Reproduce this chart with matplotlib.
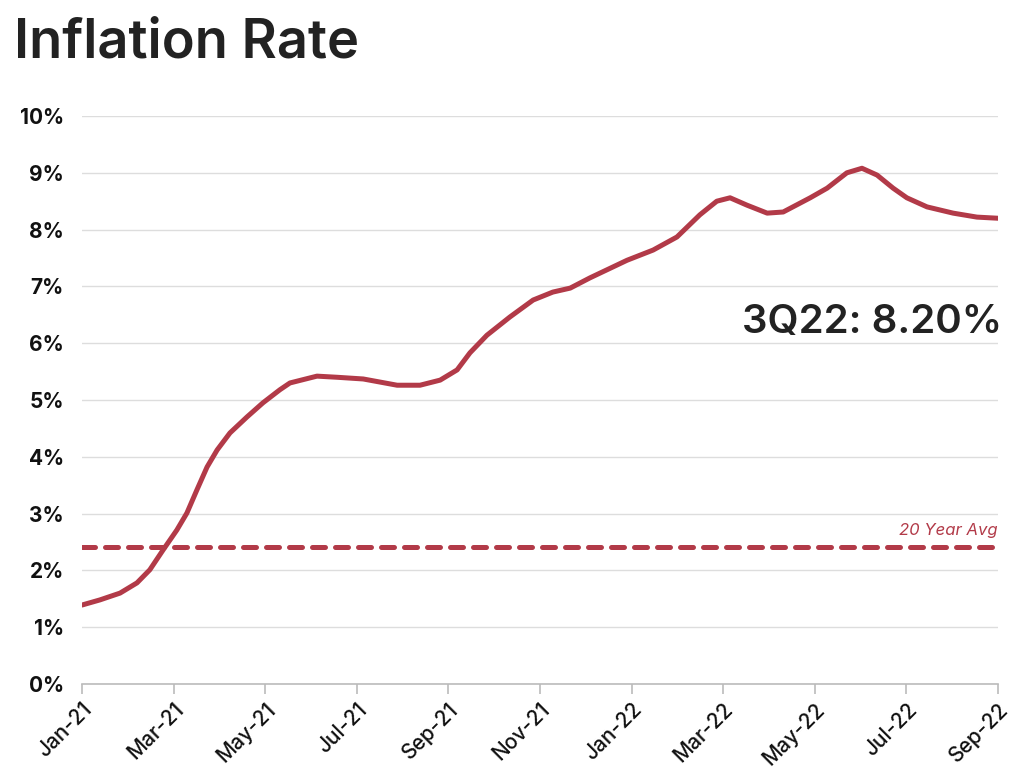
import matplotlib
matplotlib.use("Agg")
import matplotlib.pyplot as plt
from matplotlib.ticker import FuncFormatter

# readings: months since Jan-21 and inflation (%)
month_pos = [
    0.00, 0.39, 0.83, 1.20, 1.48, 1.77, 2.07, 2.29, 2.51, 2.73,
    2.95, 3.23, 3.60, 3.95, 4.32, 4.54, 5.13, 5.57, 6.14, 6.88,
    7.38, 7.82, 8.19, 8.47, 8.84, 9.34, 9.85, 10.28, 10.66, 11.09,
    11.90, 12.47, 12.99, 13.49, 13.86, 14.15, 14.52, 14.96, 15.31, 15.90,
    16.27, 16.70, 17.03, 17.36, 17.71, 18.01, 18.45, 19.02, 19.54, 20.00,
]
inflation = [
    1.39, 1.48, 1.60, 1.78, 2.01, 2.36, 2.71, 3.01, 3.42, 3.82,
    4.12, 4.42, 4.70, 4.95, 5.18, 5.30, 5.42, 5.40, 5.37, 5.26,
    5.26, 5.35, 5.53, 5.83, 6.14, 6.46, 6.76, 6.90, 6.97, 7.15,
    7.46, 7.64, 7.87, 8.26, 8.50, 8.56, 8.43, 8.29, 8.31, 8.56,
    8.73, 9.00, 9.08, 8.96, 8.73, 8.56, 8.40, 8.29, 8.22, 8.20,
]
tick_months = [0, 2, 4, 6, 8, 10, 12, 14, 16, 18, 20]
tick_labels = ["Jan-21", "Mar-21", "May-21", "Jul-21", "Sep-21", "Nov-21",
               "Jan-22", "Mar-22", "May-22", "Jul-22", "Sep-22"]
avg_20yr = 2.42
label_text = "3Q22: 8.20%"

red = "#b23a48"
font = ["Inter", "DejaVu Sans"]

fig = plt.figure(figsize=(10.28, 7.76), dpi=100)
ax = fig.add_axes([0.0798, 0.1186, 0.891, 0.7319])

ax.plot(month_pos, inflation, color=red, lw=3.6, solid_joinstyle="round",
        solid_capstyle="round", zorder=3)
ax.axhline(avg_20yr, color=red, lw=3.6, dashes=(2.6, 2.0), dash_capstyle="round", zorder=2)

ax.set_xlim(0, 20)
ax.set_ylim(0, 10)
ax.set_yticks(range(0, 11))
ax.yaxis.set_major_formatter(FuncFormatter(lambda v, p: f"{int(v)}%"))
ax.set_xticks(tick_months)
ax.set_xticklabels(tick_labels)

ax.grid(axis="y", color="#dddddd", lw=1)
ax.set_axisbelow(True)
for s in ["top", "right", "left"]:
    ax.spines[s].set_visible(False)
ax.spines["bottom"].set_color("#bbbbbb")
ax.spines["bottom"].set_linewidth(1.2)
ax.tick_params(axis="y", length=0, pad=13)
ax.tick_params(axis="x", length=7, color="#bbbbbb", width=1.2, pad=4)

for t in ax.get_yticklabels():
    t.set_fontfamily(font)
    t.set_fontweight("bold")
    t.set_fontsize(15)
    t.set_color("#111111")
for t in ax.get_xticklabels():
    t.set_fontfamily(font)
    t.set_fontweight("medium")
    t.set_fontsize(15)
    t.set_color("#111111")
    t.set_rotation(45)
    t.set_ha("right")
    t.set_rotation_mode("anchor")

fig.text(0.014, 0.945, "Inflation Rate", fontsize=39, fontweight="semibold",
         family=font, color="#222222", va="center")
ax.text(1.005, 6.36, label_text, transform=ax.get_yaxis_transform(), ha="right",
        va="center", fontsize=29, fontweight="semibold", family=font, color="#222222")
ax.text(1.0, avg_20yr + 0.15, "20 Year Avg", transform=ax.get_yaxis_transform(),
        ha="right", va="bottom", fontsize=12, style="italic", family=font, color=red)

fig.savefig("out.png", dpi=100)
plt.close(fig)
